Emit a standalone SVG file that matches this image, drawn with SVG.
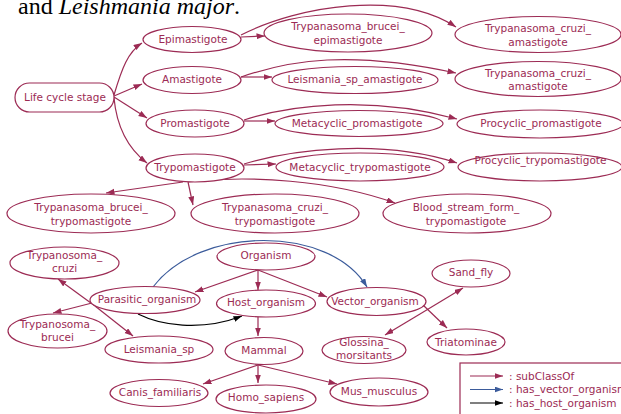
<svg xmlns="http://www.w3.org/2000/svg" width="621" height="414" viewBox="0 0 621 414">
<style>
.n{fill:#fff;stroke:#9c2b54;stroke-width:1.2}
.t{font-family:"DejaVu Sans",Verdana,sans-serif;font-size:10.5px;fill:#9c2b54;text-anchor:middle}
.lt{font-family:"DejaVu Sans",Verdana,sans-serif;font-size:10.5px;fill:#9c2b54}
.e{fill:none;stroke:#9c2b54;stroke-width:1.2;marker-end:url(#ar)}
.v{fill:none;stroke:#3b5b9b;stroke-width:1.2;marker-end:url(#ab)}
.h{fill:none;stroke:#000;stroke-width:1.2;marker-end:url(#ak)}
</style>
<defs>
<marker id="ar" markerUnits="userSpaceOnUse" markerWidth="9" markerHeight="7" refX="8.5" refY="3" orient="auto"><path d="M0,0 L8.5,3 L0,6 z" fill="#9c2b54"/></marker>
<marker id="ab" markerUnits="userSpaceOnUse" markerWidth="9" markerHeight="7" refX="8.5" refY="3" orient="auto"><path d="M0,0 L8.5,3 L0,6 z" fill="#3b5b9b"/></marker>
<marker id="ak" markerUnits="userSpaceOnUse" markerWidth="9" markerHeight="7" refX="8.5" refY="3" orient="auto"><path d="M0,0 L8.5,3 L0,6 z" fill="#000"/></marker>
</defs>
<rect width="621" height="414" fill="#fff"/>
<text x="18" y="14" font-family="Liberation Serif,serif" font-size="24" fill="#000">and <tspan font-style="italic">Leishmania major</tspan>.</text>

<g id="connectors">
<path class="e" d="M114,95 C122,68 128,52 142,43"/>
<path class="e" d="M114,96 L142,84"/>
<path class="e" d="M114,97 L147,118"/>
<path class="e" d="M114,98 C117,130 130,150 147,163"/>
<path class="e" d="M241,37 L265,36"/>
<path class="e" d="M241,35 C300,5 400,-10 456,27"/>
<path class="e" d="M241,77 L272,77"/>
<path class="e" d="M241,77 C290,60 350,50 456,73"/>
<path class="e" d="M244,121 L275,121"/>
<path class="e" d="M244,120 C290,105 370,95 457,119"/>
<path class="e" d="M244,165 L276,164"/>
<path class="e" d="M244,164 C290,150 380,138 457,163"/>
<path class="e" d="M183,182 L106,193"/>
<path class="e" d="M188,182 L193,205"/>
<path class="e" d="M188,182 C250,175 330,180 395,203"/>
<path class="e" d="M258,270 L195,292"/>
<path class="e" d="M258,270 L258,290"/>
<path class="e" d="M258,270 L327,297"/>
<path class="e" d="M95,306 L58,279"/>
<path class="e" d="M95,306 L133,336"/>
<path class="e" d="M92,303 L53,313"/>
<path class="v" d="M153,287 C200,225 330,225 367,287"/>
<path class="h" d="M138,314 C160,325 200,332 242,316"/>
<path class="e" d="M258,317 L258,336"/>
<path class="e" d="M420,314 L463,288"/>
<path class="e" d="M420,314 L385,335"/>
<path class="e" d="M423,305 L447,328"/>
<path class="e" d="M258,365 L203,384"/>
<path class="e" d="M258,365 L258,383"/>
<path class="e" d="M258,365 L337,384"/>
</g>

<g id="life_cycle_stage"><rect class="n" x="15" y="83" width="99" height="29" rx="14.5"/><text class="t" x="65" y="101">Life cycle stage</text></g>
<g id="epimastigote"><ellipse class="n" cx="192" cy="39.5" rx="49" ry="13"/><text class="t" x="193" y="42.5">Epimastigote</text></g>
<g id="amastigote"><ellipse class="n" cx="192" cy="80" rx="49" ry="13.5"/><text class="t" x="192" y="83">Amastigote</text></g>
<g id="promastigote"><ellipse class="n" cx="195" cy="123.5" rx="49" ry="13.5"/><text class="t" x="195" y="127">Promastigote</text></g>
<g id="trypomastigote"><ellipse class="n" cx="195" cy="168" rx="49" ry="14"/><text class="t" x="195" y="171">Trypomastigote</text></g>

<g id="tb_epimastigote"><ellipse class="n" cx="348" cy="33" rx="84" ry="19"/><text class="t" x="348" y="30">Trypanasoma_brucei_</text><text class="t" x="348" y="43.5">epimastigote</text></g>
<g id="tc_amastigote1"><ellipse class="n" cx="538" cy="34.5" rx="83" ry="18"/><text class="t" x="538" y="32">Trypanasoma_cruzi_</text><text class="t" x="538" y="46">amastigote</text></g>
<g id="leismania_sp_amastigote"><ellipse class="n" cx="355" cy="80" rx="83" ry="13.5"/><text class="t" x="355" y="83">Leismania_sp_amastigote</text></g>
<g id="tc_amastigote2"><ellipse class="n" cx="538" cy="79" rx="83" ry="17.5"/><text class="t" x="538" y="76.5">Trypanasoma_cruzi_</text><text class="t" x="538" y="90">amastigote</text></g>
<g id="metacyclic_promastigote"><ellipse class="n" cx="359" cy="123.5" rx="84" ry="13"/><text class="t" x="357" y="127">Metacyclic_promastigote</text></g>
<g id="procyclic_promastigote"><ellipse class="n" cx="540" cy="124" rx="83" ry="14"/><text class="t" x="541" y="127">Procyclic_promastigote</text></g>
<g id="metacyclic_trypomastigote"><ellipse class="n" cx="360" cy="167" rx="84" ry="14"/><text class="t" x="360" y="171">Metacyclic_trypomastigote</text></g>
<g id="procyclic_trypomastigote"><ellipse class="n" cx="540" cy="167" rx="82" ry="14"/><text class="t" x="540.5" y="164">Procyclic_trypomastigote</text></g>

<g id="tb_trypomastigote"><ellipse class="n" cx="91" cy="213.5" rx="84" ry="19.5"/><text class="t" x="91" y="210.5">Trypanasoma_brucei_</text><text class="t" x="91" y="224.5">trypomastigote</text></g>
<g id="tc_trypomastigote"><ellipse class="n" cx="275" cy="213.5" rx="84" ry="19.5"/><text class="t" x="275" y="210.5">Trypanasoma_cruzi_</text><text class="t" x="275" y="224.5">trypomastigote</text></g>
<g id="bsf_trypomastigote"><ellipse class="n" cx="467" cy="213.5" rx="84" ry="19.5"/><text class="t" x="466" y="210.5">Blood_stream_form_</text><text class="t" x="466" y="224.5">trypomastigote</text></g>

<g id="trypanosoma_cruzi"><ellipse class="n" cx="64.5" cy="263" rx="54.5" ry="16"/><text class="t" x="64.5" y="259">Trypanosoma_</text><text class="t" x="64.5" y="272">cruzi</text></g>
<g id="organism"><ellipse class="n" cx="266" cy="256.5" rx="49" ry="13.5"/><text class="t" x="266" y="259">Organism</text></g>
<g id="parasitic_organism"><ellipse class="n" cx="145" cy="300" rx="55" ry="13.5"/><text class="t" x="147" y="303">Parasitic_organism</text></g>
<g id="host_organism"><ellipse class="n" cx="266" cy="303.5" rx="49.5" ry="13.5"/><text class="t" x="266" y="305.5">Host_organism</text></g>
<g id="vector_organism"><ellipse class="n" cx="376.5" cy="301.5" rx="49.5" ry="14"/><text class="t" x="375" y="304.5">Vector_organism</text></g>
<g id="trypanosoma_brucei"><ellipse class="n" cx="57.5" cy="331" rx="49.5" ry="17"/><text class="t" x="57.5" y="328">Trypanosoma_</text><text class="t" x="57.5" y="340.5">brucei</text></g>
<g id="leismania_sp"><ellipse class="n" cx="159" cy="349.5" rx="54" ry="13.5"/><text class="t" x="159" y="353">Leismania_sp</text></g>
<g id="mammal"><ellipse class="n" cx="264" cy="351" rx="39" ry="13.5"/><text class="t" x="264" y="354">Mammal</text></g>
<g id="canis_familiaris"><ellipse class="n" cx="159" cy="393" rx="49" ry="13.5"/><text class="t" x="160" y="395.5">Canis_familiaris</text></g>
<g id="homo_sapiens"><ellipse class="n" cx="266" cy="399" rx="50" ry="14"/><text class="t" x="266" y="401">Homo_sapiens</text></g>
<g id="mus_musculus"><ellipse class="n" cx="379" cy="392" rx="49" ry="14"/><text class="t" x="379" y="395">Mus_musculus</text></g>
<g id="glossina_morsitants"><ellipse class="n" cx="364" cy="350" rx="42" ry="13.5"/><text class="t" x="364" y="345.5">Glossina_</text><text class="t" x="364" y="359">morsitants</text></g>
<g id="triatominae"><ellipse class="n" cx="466" cy="342" rx="39" ry="13"/><text class="t" x="466" y="345.5">Triatominae</text></g>
<g id="sand_fly"><ellipse class="n" cx="471" cy="273.5" rx="39" ry="13.5"/><text class="t" x="471" y="275.5">Sand_fly</text></g>

<g id="legend">
<rect x="460" y="363" width="170" height="60" fill="#fff" stroke="#9c2b54" stroke-width="1.2"/>
<path class="e" d="M470,376 L503,376"/>
<path class="v" d="M470,389.5 L503,389.5"/>
<path class="h" d="M470,403 L503,403"/>
<text class="lt" x="509" y="379.5">: subClassOf</text>
<text class="lt" x="509" y="393">: has_vector_organism</text>
<text class="lt" x="509" y="406.5">: has_host_organism</text>
</g>
</svg>
